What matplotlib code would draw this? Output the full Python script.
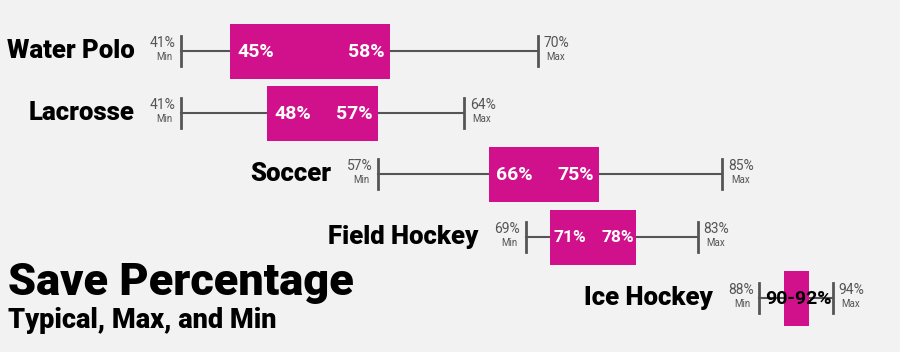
import numpy as np
import matplotlib
matplotlib.use("Agg")
import matplotlib.pyplot as plt

sports = ["Water Polo", "Lacrosse", "Soccer", "Field Hockey", "Ice Hockey"]
mins = [41, 41, 57, 69, 88]
maxs = [70, 64, 85, 83, 94]
typ_low = [45, 48, 66, 71, 90]
typ_high = [58, 57, 75, 78, 92]

# layout (pixel rows, px-per-percent scale)
row_y = [51, 113, 174, 237, 298]
box_h = 55
tick_h = 30
scale = 12.3
offset = -323.1

bg = "#f2f2f2"
magenta = "#d1108c"
line_col = "#555555"

plt.rcParams["font.family"] = ["Roboto", "DejaVu Sans"]

fig = plt.figure(figsize=(9, 3.52), dpi=100, facecolor=bg)
ax = fig.add_axes([0, 0, 1, 1], facecolor=bg)
ax.set_xlim((0 - offset) / scale, (900 - offset) / scale)
ax.set_ylim(352, 0)
ax.axis("off")

for i, name in enumerate(sports):
    y = row_y[i]
    lo, hi = mins[i], maxs[i]
    a, b = typ_low[i], typ_high[i]
    ax.plot([lo, hi], [y, y], color=line_col, lw=1.5, zorder=1)
    th = tick_h / 2
    ax.plot([lo, lo], [y - th, y + th], color=line_col, lw=2, zorder=1)
    ax.plot([hi, hi], [y - th, y + th], color=line_col, lw=2, zorder=1)
    ax.bar(a, box_h, width=b - a, bottom=y - box_h / 2, align="edge",
           color=magenta, zorder=2)

    pad = 0.45
    ax.text(lo - pad, y - 1, f"{lo}%", ha="right", va="bottom",
            fontsize=10, color=line_col)
    ax.text(lo - pad - 0.25, y + 1, "Min", ha="right", va="top",
            fontsize=7, color=line_col)
    ax.text(hi + pad, y - 1, f"{hi}%", ha="left", va="bottom",
            fontsize=10, color=line_col)
    ax.text(hi + pad + 0.25, y + 1, "Max", ha="left", va="top",
            fontsize=7, color=line_col)

    ax.text(lo - 3.8, y, name, ha="right", va="center", fontsize=18.5,
            fontweight="heavy", color="black")

    if b - a >= 8:
        ax.text(a + 0.6, y + 1, f"{a}%", ha="left", va="center",
                fontsize=14, fontweight="bold", color="white", zorder=3)
        ax.text(b - 0.45, y + 1, f"{b}%", ha="right", va="center",
                fontsize=14, fontweight="bold", color="white", zorder=3)
    elif b - a >= 5:
        ax.text(a + 0.3, y + 1, f"{a}%", ha="left", va="center",
                fontsize=12.5, fontweight="bold", color="white", zorder=3)
        ax.text(b - 0.2, y + 1, f"{b}%", ha="right", va="center",
                fontsize=12.5, fontweight="bold", color="white", zorder=3)
    else:
        ax.text((a + b) / 2 + 0.2, y + 1, f"{a}-{b}%", ha="center",
                va="center", fontsize=14, fontweight="bold",
                color="black", zorder=3)

fig.text(8 / 900, 1 - 295 / 352, "Save Percentage", fontsize=32.5,
         fontweight="heavy", color="black", ha="left", va="baseline")
fig.text(8 / 900, 1 - 328 / 352, "Typical, Max, and Min", fontsize=19.5,
         fontweight="heavy", color="black", ha="left", va="baseline")

fig.savefig("out.png", dpi=100, facecolor=bg)
